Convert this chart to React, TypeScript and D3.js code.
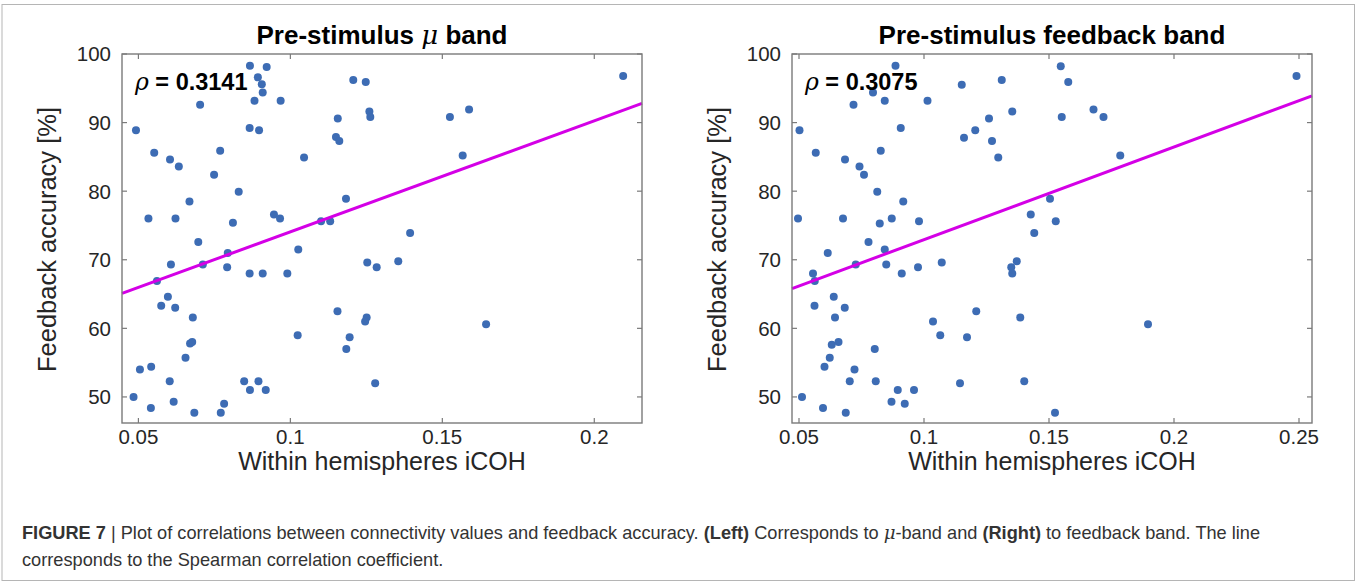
import React from "react";
import * as d3 from "d3";

// ---- data ----
const leftX = [
  0.0867, 0.0922, 0.0893, 0.0906, 0.0909, 0.0882, 0.0968, 0.1207, 0.1248, 0.0703,
  0.0492, 0.0866, 0.0897, 0.1156, 0.126, 0.1263, 0.115, 0.1161, 0.0552, 0.0604,
  0.0633, 0.0769, 0.1045, 0.0749, 0.083, 0.0668, 0.1183, 0.0533, 0.0622, 0.0811,
  0.0946, 0.0966, 0.1525, 0.1588, 0.1567, 0.2095, 0.0697, 0.1101, 0.1131, 0.1026,
  0.0794, 0.0607, 0.0712, 0.0561, 0.0792, 0.0866, 0.0909, 0.099, 0.1253, 0.1284,
  0.0597, 0.0575, 0.0621, 0.0679, 0.067, 0.0677, 0.0655, 0.1024, 0.1155, 0.1251,
  0.1246, 0.1195, 0.1184, 0.1279, 0.0505, 0.0542, 0.0603, 0.0484, 0.0541, 0.0616,
  0.0684, 0.0771, 0.0782, 0.0848, 0.0867, 0.0895, 0.0919, 0.1394, 0.1355, 0.1644,
];
const leftY = [
  98.3, 98.1, 96.6, 95.6, 94.4, 93.2, 93.2, 96.2, 95.9, 92.6,
  88.9, 89.2, 88.9, 90.6, 91.6, 90.8, 87.9, 87.3, 85.6, 84.6,
  83.6, 85.9, 84.9, 82.4, 79.9, 78.5, 78.9, 76.0, 76.0, 75.4,
  76.6, 76.0, 90.8, 91.9, 85.2, 96.8, 72.6, 75.6, 75.6, 71.5,
  71.0, 69.3, 69.3, 66.9, 68.9, 68.0, 68.0, 68.0, 69.6, 68.9,
  64.6, 63.3, 63.0, 61.6, 57.8, 58.0, 55.7, 59.0, 62.5, 61.6,
  61.0, 58.7, 57.0, 52.0, 54.0, 54.4, 52.3, 50.0, 48.4, 49.3,
  47.7, 47.7, 49.0, 52.3, 51.0, 52.3, 51.0, 73.9, 69.8, 60.6,
];
const rightX = [
  0.0886, 0.0796, 0.0843, 0.1014, 0.1151, 0.1311, 0.0718, 0.1353, 0.126, 0.0502,
  0.0907, 0.116, 0.1205, 0.1272, 0.1297, 0.0567, 0.0684, 0.0742, 0.076, 0.0827,
  0.0813, 0.0917, 0.1427, 0.1504, 0.0496, 0.0676, 0.0823, 0.0871, 0.098, 0.1441,
  0.0778, 0.0843, 0.0615, 0.0556, 0.0563, 0.0727, 0.0849, 0.0911, 0.0976, 0.1071,
  0.1349, 0.1353, 0.1371, 0.0639, 0.0562, 0.0683, 0.0644, 0.1036, 0.1209, 0.1385,
  0.1065, 0.1172, 0.0631, 0.0658, 0.0803, 0.0623, 0.0602, 0.0722, 0.0703, 0.0807,
  0.1144, 0.1401, 0.0512, 0.0596, 0.0687, 0.087, 0.0923, 0.0895, 0.096, 0.1547,
  0.1577, 0.1551, 0.1678, 0.1718, 0.1785, 0.249, 0.1527, 0.1896, 0.1524,
];
const rightY = [
  98.3, 94.4, 93.2, 93.2, 95.5, 96.2, 92.6, 91.6, 90.6, 88.9,
  89.2, 87.8, 88.9, 87.3, 84.9, 85.6, 84.6, 83.6, 82.4, 85.9,
  79.9, 78.5, 76.6, 78.9, 76.0, 76.0, 75.3, 76.0, 75.6, 73.9,
  72.6, 71.5, 71.0, 68.0, 66.9, 69.3, 69.3, 68.0, 68.9, 69.6,
  68.9, 68.0, 69.8, 64.6, 63.3, 63.0, 61.6, 61.0, 62.5, 61.6,
  59.0, 58.7, 57.6, 58.0, 57.0, 55.7, 54.4, 54.0, 52.3, 52.3,
  52.0, 52.3, 50.0, 48.4, 47.7, 49.3, 49.0, 51.0, 51.0, 98.2,
  95.9, 90.8, 91.9, 90.8, 85.2, 96.8, 75.6, 60.6, 47.7,
];
const leftLineX = [0.0446, 0.2157];
const leftLineY = [65.1, 92.8];
const rightLineX = [0.0472, 0.2552];
const rightLineY = [65.8, 93.9];

const leftXTicks = [0.05, 0.1, 0.15, 0.2];
const leftXTickLabels = ["0.05", "0.1", "0.15", "0.2"];
const rightXTicks = [0.05, 0.1, 0.15, 0.2, 0.25];
const rightXTickLabels = ["0.05", "0.1", "0.15", "0.2", "0.25"];
const yTicks = [50, 60, 70, 80, 90, 100];
const yTickLabels = ["50", "60", "70", "80", "90", "100"];

const FONT = "'Liberation Sans', Arial, Helvetica, sans-serif";
const AX = "#7a7a7a";
const TXT = "#262626";
const DOT = "#3d6cb4";
const LINE = "#d400e6";

type PanelProps = {
  left: number;
  right: number;
  xDomain: [number, number];
  xTicks: number[];
  xTickLabels: string[];
  xs: number[];
  ys: number[];
  lineX: number[];
  lineY: number[];
  title: React.ReactNode;
  rho: string;
};

const TOP = 54;
const BOTTOM = 423;
const Y_DOMAIN: [number, number] = [46.2, 100];

function Panel(p: PanelProps) {
  const x = d3.scaleLinear().domain(p.xDomain).range([p.left, p.right]);
  const y = d3.scaleLinear().domain(Y_DOMAIN).range([BOTTOM, TOP]);
  const tl = 5;
  const cx = (p.left + p.right) / 2;
  return (
    <g fontFamily={FONT}>
      <rect x={p.left} y={TOP} width={p.right - p.left} height={BOTTOM - TOP} fill="#fff" stroke="none" />
      {p.xs.map((v, i) => (
        <circle key={i} cx={x(v)} cy={y(p.ys[i])} r={4} fill={DOT} />
      ))}
      <line
        x1={x(p.lineX[0])}
        y1={y(p.lineY[0])}
        x2={x(p.lineX[1])}
        y2={y(p.lineY[1])}
        stroke={LINE}
        strokeWidth={3}
      />
      <rect x={p.left} y={TOP} width={p.right - p.left} height={BOTTOM - TOP} fill="none" stroke={AX} strokeWidth={1.4} />
      {p.xTicks.map((t, i) => (
        <g key={"x" + i}>
          <line x1={x(t)} x2={x(t)} y1={BOTTOM} y2={BOTTOM - tl} stroke={AX} strokeWidth={1.2} />
          <line x1={x(t)} x2={x(t)} y1={TOP} y2={TOP + tl} stroke={AX} strokeWidth={1.2} />
          <text x={x(t)} y={444} textAnchor="middle" fontSize={20.5} fill={TXT}>
            {p.xTickLabels[i]}
          </text>
        </g>
      ))}
      {yTicks.map((t, i) => (
        <g key={"y" + i}>
          <line x1={p.left} x2={p.left + tl} y1={y(t)} y2={y(t)} stroke={AX} strokeWidth={1.2} />
          <line x1={p.right} x2={p.right - tl} y1={y(t)} y2={y(t)} stroke={AX} strokeWidth={1.2} />
          <text x={p.left - 11} y={y(t)} dy="0.36em" textAnchor="end" fontSize={20.5} fill={TXT}>
            {yTickLabels[i]}
          </text>
        </g>
      ))}
      <text x={cx} y={44} textAnchor="middle" fontSize={26} fontWeight="bold" fill="#000">
        {p.title}
      </text>
      <text x={p.left + 13} y={90} fontSize={23.5} fill="#000">
        <tspan fontStyle="italic" fontFamily="'DejaVu Serif', serif">ρ</tspan>
        <tspan fontWeight="bold"> = {p.rho}</tspan>
      </text>
      <text x={cx} y={470} textAnchor="middle" fontSize={25} fill={TXT}>
        Within hemispheres iCOH
      </text>
      <text
        transform={`translate(${p.left - 66},${(TOP + BOTTOM) / 2 + 1}) rotate(-90)`}
        textAnchor="middle"
        fontSize={25.5}
        fill={TXT}
      >
        Feedback accuracy [%]
      </text>
    </g>
  );
}

export default function App() {
  return (
    <svg
      width={1357}
      height={583}
      style={{ position: "absolute", left: 0, top: 0, background: "#fff" }}
      fontFamily={FONT}
    >
      <rect x={0} y={0} width={1357} height={583} fill="#fff" />
      <rect x={2} y={4.5} width={1352.5} height={576} fill="none" stroke="#b5b5b5" strokeWidth={1} />
      <Panel
        left={122}
        right={642}
        xDomain={[0.0446, 0.2157]}
        xTicks={leftXTicks}
        xTickLabels={leftXTickLabels}
        xs={leftX}
        ys={leftY}
        lineX={leftLineX}
        lineY={leftLineY}
        title={
          <>
            Pre-stimulus{" "}
            <tspan fontStyle="italic" fontWeight="normal" fontFamily="'DejaVu Serif', serif">
              μ
            </tspan>{" "}
            band
          </>
        }
        rho="0.3141"
      />
      <Panel
        left={792}
        right={1312}
        xDomain={[0.0472, 0.2552]}
        xTicks={rightXTicks}
        xTickLabels={rightXTickLabels}
        xs={rightX}
        ys={rightY}
        lineX={rightLineX}
        lineY={rightLineY}
        title="Pre-stimulus feedback band"
        rho="0.3075"
      />
      <text x={22} y={539} fontSize={18.2} fill="#333" fontFamily={FONT}>
        <tspan fontWeight="bold">FIGURE 7</tspan>
        <tspan> | Plot of correlations between connectivity values and feedback accuracy. </tspan>
        <tspan fontWeight="bold">(Left)</tspan>
        <tspan> Corresponds to </tspan>
        <tspan fontStyle="italic" fontFamily="'DejaVu Serif', serif">μ</tspan>
        <tspan>-band and </tspan>
        <tspan fontWeight="bold">(Right)</tspan>
        <tspan> to feedback band. The line</tspan>
      </text>
      <text x={22} y={566} fontSize={18.2} fill="#333" fontFamily={FONT}>
        corresponds to the Spearman correlation coefficient.
      </text>
    </svg>
  );
}
